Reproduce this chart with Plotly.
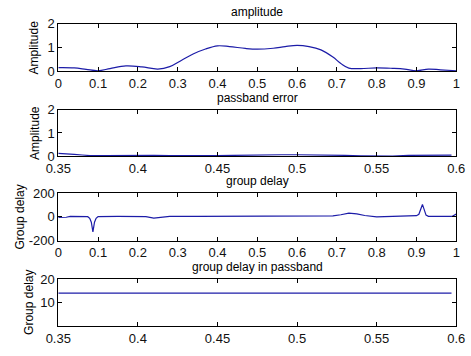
import plotly.graph_objects as go

# ---- data ----
amp_x = [0, 0.04, 0.07, 0.1, 0.13, 0.17, 0.21, 0.25, 0.28, 0.31, 0.34, 0.37, 0.4, 0.43, 0.47, 0.5,
         0.54, 0.57, 0.6, 0.63, 0.66, 0.69, 0.71, 0.73, 0.76, 0.8, 0.84, 0.87, 0.9, 0.93, 0.96, 1.0]
amp_y = [0.16, 0.15, 0.09, 0.03, 0.12, 0.23, 0.19, 0.1, 0.2, 0.47, 0.74, 0.94, 1.07, 1.04, 0.96, 0.93,
         0.97, 1.04, 1.09, 1.04, 0.9, 0.6, 0.33, 0.14, 0.12, 0.15, 0.13, 0.1, 0.03, 0.1, 0.07, 0.03]

pe_x = [0.35, 0.355, 0.36, 0.365, 0.37, 0.38, 0.39, 0.4, 0.41, 0.42, 0.43, 0.44, 0.45, 0.46, 0.47,
        0.48, 0.49, 0.5, 0.51, 0.52, 0.53, 0.54, 0.55, 0.56, 0.57, 0.58, 0.59, 0.597]
pe_y = [0.12, 0.11, 0.08, 0.05, 0.02, 0.02, 0.03, 0.04, 0.03, 0.02, 0.01, 0.01, 0.02, 0.03, 0.05,
        0.06, 0.06, 0.06, 0.06, 0.05, 0.03, 0.01, 0.0, 0.0, 0.03, 0.04, 0.04, 0.04]

gd_x = [0, 0.02, 0.03, 0.06, 0.074, 0.079, 0.083, 0.087, 0.091, 0.095, 0.1, 0.15, 0.2, 0.22, 0.24,
        0.26, 0.28, 0.35, 0.45, 0.55, 0.65, 0.69, 0.71, 0.73, 0.75, 0.77, 0.8, 0.85, 0.9, 0.906,
        0.911, 0.915, 0.919, 0.924, 0.93, 0.96, 0.99, 1.0]
gd_y = [-5, -3, 5, 5, 2, -12, -45, -125, -45, -12, 3, 5, 5, 3, -10,
        -5, 5, 5, 5, 5, 5, 8, 18, 32, 25, 12, 0, 5, 10, 22,
        65, 105, 65, 15, 5, 5, 5, 25]

gdp_x = [0.35, 0.597]
gdp_y = [14, 14]

full_ticks = [0, 0.1, 0.2, 0.3, 0.4, 0.5, 0.6, 0.7, 0.8, 0.9, 1]
full_ticktext = ["0", "0.1", "0.2", "0.3", "0.4", "0.5", "0.6", "0.7", "0.8", "0.9", "1"]
pb_ticks = [0.35, 0.4, 0.45, 0.5, 0.55, 0.6]
pb_ticktext = ["0.35", "0.4", "0.45", "0.5", "0.55", "0.6"]
amp_yticks = [0, 1, 2]
gd_yticks = [-200, 0, 200]
gd_yticktext = ["-200", "0", "200"]
gdp_yticks = [10, 20]

titles = ["amplitude", "passband error", "group delay", "group delay in passband"]
ylabels = ["Amplitude", "Amplitude", "Group delay", "Group delay"]

# ---- layout geometry ----
W, H = 471, 356
x0, x1 = 47.5 / W, 465 / W
panels_px = [(17.3, 67.3), (107.3, 155.7), (194.3, 244.0), (284.0, 333.3)]
domains = [[1 - b / H, 1 - t / H] for t, b in panels_px]

LINE = "#1c1ca8"
FONT = "Liberation Sans, Arial, sans-serif"

fig = go.Figure()
series = [(amp_x, amp_y, "spline"), (pe_x, pe_y, "linear"), (gd_x, gd_y, "linear"), (gdp_x, gdp_y, "linear")]
for i, (xs, ys, shp) in enumerate(series):
    sfx = "" if i == 0 else str(i + 1)
    fig.add_trace(go.Scatter(x=xs, y=ys, mode="lines", line=dict(color=LINE, width=1.2, shape=shp),
                             xaxis="x" + sfx, yaxis="y" + sfx, showlegend=False, hoverinfo="skip"))

axis_common = dict(showline=True, linecolor="black", linewidth=1, mirror="allticks", ticks="inside",
                   ticklen=4, tickcolor="black", showgrid=False, zeroline=False,
                   tickfont=dict(family=FONT, size=13, color="#111"), fixedrange=True)

xcfg = [(full_ticks, full_ticktext, [0, 1]), (pb_ticks, pb_ticktext, [0.35, 0.6]),
        (full_ticks, full_ticktext, [0, 1]), (pb_ticks, pb_ticktext, [0.35, 0.6])]
ycfg = [(amp_yticks, [str(v) for v in amp_yticks], [0, 2]),
        (amp_yticks, [str(v) for v in amp_yticks], [0, 2]),
        (gd_yticks, gd_yticktext, [-200, 200]),
        (gdp_yticks, [str(v) for v in gdp_yticks], [0, 20])]

lay = {}
annotations = []
ylab_x = [22, 23, 7, 16]
for i in range(4):
    sfx = "" if i == 0 else str(i + 1)
    tv, tt, rg = xcfg[i]
    lay["xaxis" + sfx] = dict(axis_common, domain=[x0, x1], range=rg, tickvals=tv, ticktext=tt,
                              anchor="y" + sfx)
    tv, tt, rg = ycfg[i]
    lay["yaxis" + sfx] = dict(axis_common, domain=domains[i], range=rg, tickvals=tv, ticktext=tt,
                              anchor="x" + sfx)
    top, bot = panels_px[i]
    annotations.append(dict(text=titles[i], xref="paper", yref="paper", x=(x0 + x1) / 2,
                            y=1 - (top - 12.5) / H, xanchor="center", yanchor="middle",
                            showarrow=False, font=dict(family=FONT, size=12, color="black")))
    annotations.append(dict(text=ylabels[i], xref="paper", yref="paper", x=ylab_x[i] / W,
                            y=1 - (top + bot) / 2 / H, xanchor="center", yanchor="middle",
                            textangle=-90, showarrow=False,
                            font=dict(family=FONT, size=12, color="black")))

fig.update_layout(width=W, height=H, margin=dict(l=0, r=0, t=0, b=0), paper_bgcolor="white",
                  plot_bgcolor="white", annotations=annotations, **lay)

fig.write_html("out.html", config={"displayModeBar": False})
